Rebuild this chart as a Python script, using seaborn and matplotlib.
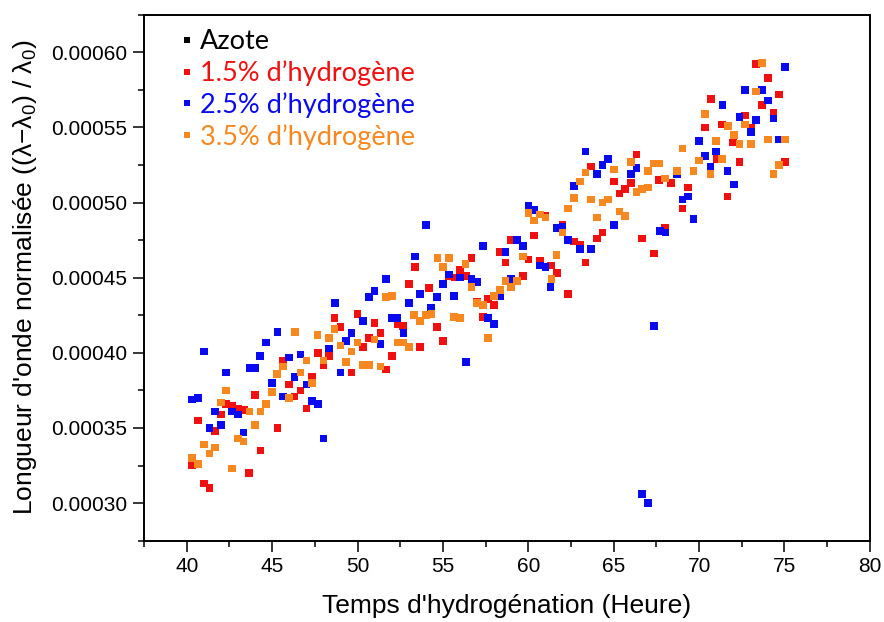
import numpy as np
import pandas as pd
import seaborn as sns
import matplotlib.pyplot as plt
from matplotlib.lines import Line2D
from matplotlib.ticker import MultipleLocator, FormatStrFormatter

# --- data (hours, normalised wavelength shift) ---
series_names = ["Azote", "1.5% d\u2019hydrogène", "2.5% d\u2019hydrogène", "3.5% d\u2019hydrogène"]
series_colors = ["#000000", "#F01010", "#0A0AF0", "#F7871F"]

azote_h = []
azote_v = []

h15_h = [40.32, 40.67, 41.0, 41.33, 41.64, 42.0, 42.31, 42.66, 43.0, 43.34, 43.66, 44.0, 44.32,
         45.32, 45.65, 46.0, 46.31, 46.67, 47.0, 47.35, 47.68, 48.0, 48.32, 48.66, 49.0, 49.64,
         50.0, 50.32, 50.67, 51.0, 51.34, 51.67, 52.0, 52.33, 52.66, 53.0, 53.35, 53.66, 54.2,
         54.66, 55.0, 55.34, 55.68, 56.0, 56.34, 56.67, 57.0, 57.33, 57.64, 58.0, 58.31, 58.66,
         59.0, 59.68, 60.0, 60.32, 60.67, 61.01, 61.34, 61.67, 62.0, 62.34, 62.67, 63.02, 63.35,
         63.66, 64.02, 64.35, 65.01, 65.34, 65.67, 66.0, 66.34, 66.67, 67.02, 67.36, 67.67, 68.02,
         68.35, 69.02, 69.35, 70.35, 70.68, 71.03, 71.34, 71.67, 72.0, 72.36, 72.69, 73.03, 73.35,
         73.69, 74.02, 74.35, 74.69, 75.02]
h15_v = [0.000325, 0.000355, 0.000313, 0.000310, 0.000348, 0.000359, 0.000366, 0.000365, 0.000363,
         0.000362, 0.000320, 0.000372, 0.000335, 0.000350, 0.000395, 0.000379, 0.000371, 0.000375,
         0.000363, 0.000384, 0.000400, 0.000392, 0.000398, 0.000423, 0.000417, 0.000387, 0.000426,
         0.000404, 0.000410, 0.000420, 0.000413, 0.000389, 0.000398, 0.000419, 0.000418, 0.000446,
         0.000457, 0.000404, 0.000443, 0.000417, 0.000408, 0.000451, 0.000450, 0.000455, 0.000451,
         0.000463, 0.000434, 0.000424, 0.000436, 0.000432, 0.000467, 0.000460, 0.000475, 0.000451,
         0.000462, 0.000478, 0.000461, 0.000491, 0.000458, 0.000453, 0.000485, 0.000439, 0.000474,
         0.000472, 0.000460, 0.000524, 0.000476, 0.000480, 0.000514, 0.000506, 0.000509, 0.000513,
         0.000532, 0.000476, 0.000510, 0.000466, 0.000515, 0.000483, 0.000513, 0.000496, 0.000510,
         0.000550, 0.000569, 0.000529, 0.000552, 0.000504, 0.000540, 0.000527, 0.000558, 0.000550,
         0.000592, 0.000565, 0.000583, 0.000560, 0.000572, 0.000527]

h25_h = [40.32, 40.67, 41.0, 41.33, 41.64, 42.0, 42.31, 42.66, 43.0, 43.32, 43.68, 44.03, 44.3,
         44.65, 45.0, 45.32, 45.65, 46.0, 46.31, 46.67, 47.0, 47.35, 47.68, 48.0, 48.32, 48.68,
         49.0, 49.32, 49.64, 50.32, 50.67, 51.0, 51.34, 51.67, 52.02, 52.33, 52.68, 53.0, 53.35,
         53.66, 54.0, 54.3, 54.66, 55.0, 55.34, 55.65, 56.0, 56.34, 56.67, 57.0, 57.33, 57.64,
         58.0, 58.33, 58.66, 59.0, 59.33, 59.68, 60.0, 60.34, 60.67, 61.0, 61.3, 61.67, 62.0,
         62.32, 62.67, 63.02, 63.35, 63.66, 64.03, 64.35, 64.68, 65.01, 66.0, 66.34, 66.67, 67.02,
         67.36, 67.71, 68.04, 68.69, 69.02, 69.35, 69.68, 70.0, 70.35, 70.67, 71.0, 71.36, 71.67,
         72.03, 72.36, 72.69, 73.03, 73.35, 73.69, 74.02, 74.35, 74.69, 75.04]
h25_v = [0.000369, 0.000370, 0.000401, 0.000350, 0.000361, 0.000352, 0.000387, 0.000361, 0.000359,
         0.000347, 0.000390, 0.000390, 0.000398, 0.000407, 0.000380, 0.000414, 0.000371, 0.000397,
         0.000384, 0.000399, 0.000379, 0.000368, 0.000366, 0.000343, 0.000403, 0.000433, 0.000387,
         0.000408, 0.000413, 0.000421, 0.000437, 0.000441, 0.000406, 0.000449, 0.000423, 0.000423,
         0.000413, 0.000433, 0.000464, 0.000439, 0.000485, 0.000430, 0.000437, 0.000446, 0.000452,
         0.000438, 0.000450, 0.000394, 0.000449, 0.000447, 0.000471, 0.000423, 0.000419, 0.000438,
         0.000467, 0.000449, 0.000475, 0.000471, 0.000498, 0.000495, 0.000458, 0.000457, 0.000444,
         0.000483, 0.000484, 0.000475, 0.000511, 0.000469, 0.000534, 0.000469, 0.000519, 0.000525,
         0.000529, 0.000485, 0.000519, 0.000523, 0.000306, 0.000300, 0.000418, 0.000481, 0.000480,
         0.000519, 0.000502, 0.000504, 0.000489, 0.000541, 0.000531, 0.000524, 0.000534, 0.000565,
         0.000521, 0.000512, 0.000557, 0.000575, 0.000547, 0.000555, 0.000575, 0.000568, 0.000556,
         0.000542, 0.000590]

h35_h = [40.32, 40.67, 41.0, 41.33, 41.64, 42.0, 42.31, 42.66, 43.0, 43.32, 43.68, 44.0, 44.32,
         44.65, 45.0, 45.3, 45.65, 46.0, 46.33, 46.67, 47.0, 47.35, 47.66, 48.0, 48.32, 48.66,
         49.0, 49.32, 49.64, 50.0, 50.32, 50.67, 51.0, 51.34, 51.65, 52.0, 52.33, 52.66, 53.0,
         53.31, 53.66, 54.0, 54.33, 54.68, 55.01, 55.36, 55.65, 56.0, 56.32, 56.67, 57.0, 57.33,
         57.64, 58.0, 58.33, 58.66, 59.0, 59.34, 59.68, 60.0, 60.34, 60.67, 61.01, 61.36, 61.65,
         62.0, 62.33, 62.67, 63.02, 63.35, 63.66, 64.02, 64.35, 64.68, 65.01, 65.35, 65.67, 66.0,
         66.34, 66.67, 67.0, 67.02, 67.32, 67.64, 68.02, 68.69, 69.02, 69.68, 70.0, 70.35, 70.67,
         71.0, 71.33, 71.69, 72.03, 72.36, 72.69, 73.03, 73.35, 73.69, 74.02, 74.35, 74.69, 75.02]
h35_v = [0.000330, 0.000326, 0.000339, 0.000333, 0.000337, 0.000367, 0.000375, 0.000323, 0.000343,
         0.000341, 0.000361, 0.000352, 0.000361, 0.000366, 0.000374, 0.000386, 0.000391, 0.000370,
         0.000414, 0.000387, 0.000395, 0.000380, 0.000412, 0.000395, 0.000410, 0.000416, 0.000405,
         0.000394, 0.000401, 0.000407, 0.000392, 0.000392, 0.000409, 0.000391, 0.000437, 0.000438,
         0.000407, 0.000407, 0.000404, 0.000425, 0.000421, 0.000425, 0.000426, 0.000463, 0.000457,
         0.000463, 0.000424, 0.000423, 0.000459, 0.000444, 0.000433, 0.000432, 0.000410, 0.000438,
         0.000442, 0.000448, 0.000444, 0.000448, 0.000464, 0.000493, 0.000488, 0.000492, 0.000490,
         0.000449, 0.000465, 0.000480, 0.000496, 0.000503, 0.000514, 0.000520, 0.000502, 0.000490,
         0.000500, 0.000502, 0.000522, 0.000494, 0.000491, 0.000527, 0.000507, 0.000509, 0.000510,
         0.000521, 0.000526, 0.000526, 0.000516, 0.000521, 0.000536, 0.000521, 0.000528, 0.000559,
         0.000519, 0.000541, 0.000529, 0.000551, 0.000545, 0.000539, 0.000552, 0.000539, 0.000574,
         0.000593, 0.000542, 0.000519, 0.000525, 0.000542]

# long-form table for seaborn
frames = []
for name, hx, vy in zip(series_names,
                        [azote_h, h15_h, h25_h, h35_h],
                        [azote_v, h15_v, h25_v, h35_v]):
    frames.append(pd.DataFrame({"Temps": hx, "Longueur": vy, "Serie": name}))
df = pd.concat(frames, ignore_index=True)
palette = dict(zip(series_names, series_colors))

sns.set_style("ticks")
plt.rcParams["font.family"] = ["Liberation Sans", "DejaVu Sans"]
plt.rcParams["mathtext.fontset"] = "custom"
plt.rcParams["mathtext.rm"] = "Liberation Sans"
plt.rcParams["mathtext.it"] = "Liberation Sans"
plt.rcParams["text.color"] = "black"
plt.rcParams["axes.labelcolor"] = "black"
plt.rcParams["axes.edgecolor"] = "black"
plt.rcParams["xtick.color"] = "black"
plt.rcParams["ytick.color"] = "black"

fig = plt.figure(figsize=(8.84, 6.22), dpi=100)
ax = fig.add_axes([0.163, 0.1307, 0.821, 0.8457])

sns.scatterplot(data=df, x="Temps", y="Longueur", hue="Serie", hue_order=series_names,
                palette=palette, marker="s", s=30, linewidth=0, legend=False, ax=ax)

ax.set_xlim(37.5, 80)
ax.set_ylim(0.000275, 0.000625)
ax.xaxis.set_major_locator(MultipleLocator(5))
ax.xaxis.set_minor_locator(MultipleLocator(2.5))
ax.yaxis.set_major_locator(MultipleLocator(0.00005))
ax.yaxis.set_minor_locator(MultipleLocator(0.000025))
ax.yaxis.set_major_formatter(FormatStrFormatter("%.5f"))

for side in ["top", "right", "bottom", "left"]:
    ax.spines[side].set_visible(True)
    ax.spines[side].set_linewidth(1.4)
ax.tick_params(which="major", direction="out", length=8, width=1.1, labelsize=15, pad=4)
ax.tick_params(which="minor", direction="out", length=4, width=1.1)
ax.tick_params(top=False, right=False, which="both")

ax.set_xlabel("Temps d'hydrogénation (Heure)", fontsize=19, labelpad=13)
ax.set_ylabel(r"Longueur d'onde normalisée (($\lambda$$-$$\lambda_0$) / $\lambda_0$)",
              fontsize=19, labelpad=9)

# legend: small squares with coloured labels
handles = [Line2D([], [], marker="s", linestyle="none", markersize=4.5,
                  markerfacecolor=c, markeredgewidth=0) for c in series_colors]
leg = ax.legend(handles, series_names, loc="upper left", bbox_to_anchor=(0.025, 1.008),
                frameon=False, handlelength=0.4, handletextpad=0.3,
                labelspacing=0.22, borderaxespad=0.3,
                prop={"family": ["Lato", "DejaVu Sans"], "size": 19.5})
for txt, c in zip(leg.get_texts(), series_colors):
    txt.set_color(c)

fig.savefig("out.png", dpi=100)
